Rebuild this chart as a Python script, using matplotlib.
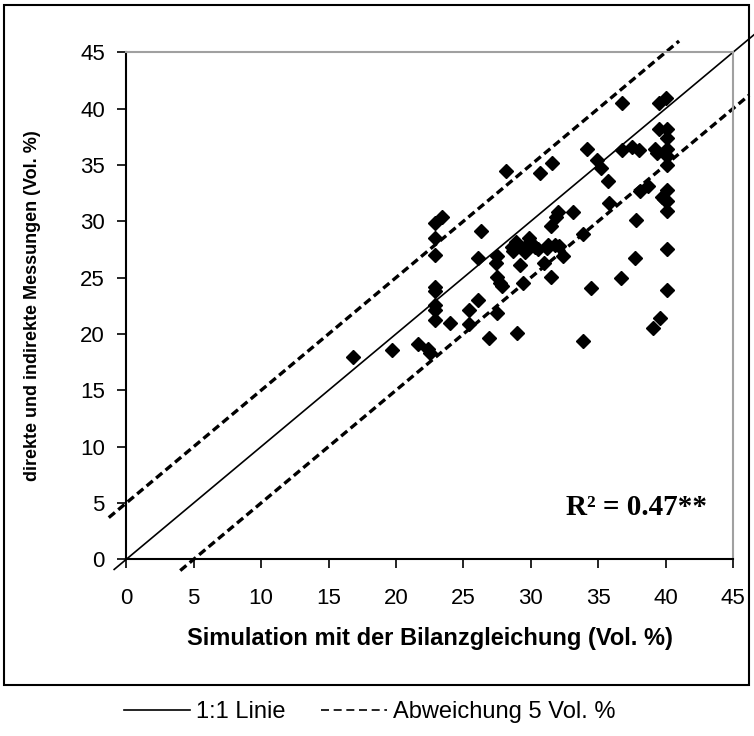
import numpy as np
import matplotlib.pyplot as plt
from matplotlib.lines import Line2D
from matplotlib.patches import Rectangle

# simulated values (x) and measured values (y), Vol. %
sim = [16.8, 19.7, 21.6, 22.4, 22.5, 22.9, 22.9, 22.9, 22.9, 22.9,
       22.9, 22.9, 22.9, 23.4, 24.0, 25.4, 25.4, 26.1, 26.1, 26.3,
       26.9, 27.4, 27.5, 27.5, 27.5, 27.7, 27.9, 28.2, 28.6, 28.9,
       29.0, 29.2, 29.4, 29.6, 29.9, 30.2, 30.5, 30.7, 31.0, 31.3,
       31.5, 31.5, 31.6, 31.8, 31.9, 32.0, 32.4, 33.1, 33.9, 33.9,
       34.2, 34.5, 34.9, 35.2, 35.7, 35.8, 36.7, 36.8, 36.8, 37.5,
       37.7, 37.8, 38.0, 38.1, 38.7, 39.1, 39.2, 39.4, 39.6, 39.5,
       39.5, 39.7, 39.9, 40.0, 40.1, 40.1, 40.1, 40.1, 40.1, 40.1,
       40.1, 40.1, 40.1, 40.1, 28.7, 29.5, 30.3, 31.2, 32.1]
mess = [18.0, 18.6, 19.1, 18.7, 18.3, 29.85, 28.5, 27.0, 24.2, 23.8,
        22.6, 22.1, 21.2, 30.4, 20.95, 22.1, 20.9, 23.0, 26.7, 29.1,
        19.6, 26.3, 26.9, 25.1, 21.9, 24.5, 24.3, 34.5, 27.7, 28.2,
        20.1, 26.1, 24.5, 27.3, 28.5, 27.9, 27.5, 34.3, 26.3, 27.9,
        29.6, 25.1, 35.2, 27.9, 30.4, 30.8, 26.9, 30.8, 19.4, 28.9,
        36.4, 24.1, 35.4, 34.7, 33.6, 31.6, 25.0, 40.5, 36.3, 36.6,
        26.7, 30.1, 36.3, 32.7, 33.1, 20.5, 36.4, 36.1, 21.4, 38.2,
        40.5, 32.2, 32.0, 40.9, 38.2, 37.4, 36.4, 35.8, 35.0, 32.8,
        31.8, 30.9, 27.5, 23.9, 27.4, 27.6, 27.7, 27.6, 27.8]

# reference lines: x range and offset
line_11_x = [-0.9, 46.9]
upper_x = [-1.3, 41.0]
lower_x = [4.0, 46.2]
offset = 5

ticks = np.arange(0, 50, 5)

plt.rcParams['font.family'] = ['Liberation Sans', 'DejaVu Sans']

fig = plt.figure(figsize=(7.54, 7.36), dpi=100)
ax = fig.add_axes([126.3 / 754, 1 - 559.3 / 736, (733 - 126.3) / 754, (559.3 - 52.3) / 736])

# outer frame
fig.patches.append(Rectangle((4 / 754, 1 - 685 / 736), 745 / 754, 680 / 736,
                             transform=fig.transFigure, fill=False,
                             edgecolor='black', linewidth=1.5))

dash = (0, (2.4, 1.3))
ax.plot(line_11_x, line_11_x, color='black', lw=1.2, clip_on=False)
ux = np.array(upper_x)
lx = np.array(lower_x)
ax.plot(ux, ux + offset, color='black', lw=2.4, ls=dash, clip_on=False)
ax.plot(lx, lx - offset, color='black', lw=2.4, ls=dash, clip_on=False)

ax.plot(sim, mess, 'D', color='black', markersize=7, zorder=5, clip_on=False)

ax.set_xlim(0, 45)
ax.set_ylim(0, 45)
ax.set_xticks(ticks)
ax.set_yticks(ticks)
ax.tick_params(direction='out', length=6.5, width=1.2, labelsize=16)
ax.tick_params(axis='x', pad=14)
ax.tick_params(axis='y', pad=9)
for s in ['left', 'bottom']:
    ax.spines[s].set_linewidth(1.5)
for s in ['top', 'right']:
    ax.spines[s].set_color('#a0a0a0')
    ax.spines[s].set_linewidth(1.5)

ax.set_xlabel('Simulation mit der Bilanzgleichung (Vol. %)', fontsize=17,
              fontweight='bold', labelpad=13)
ax.set_ylabel('direkte und indirekte Messungen (Vol. %)', fontsize=13,
              fontweight='bold', labelpad=28)

ax.text(32.6, 4.6, 'R² = 0.47**', fontsize=21, fontweight='bold',
        family='Liberation Serif', va='center', ha='left')

handles = [Line2D([], [], color='black', lw=1.2),
           Line2D([], [], color='black', lw=1.2, ls=(0, (4.8, 2.8)))]
fig.legend(handles, ['1:1 Linie', 'Abweichung 5 Vol. %'], loc='center',
           bbox_to_anchor=(0.49, 1 - 712 / 736), ncol=2, frameon=False,
           fontsize=17, handlelength=2.8, columnspacing=1.5, handletextpad=0.25)

plt.savefig('out.png', dpi=100)
